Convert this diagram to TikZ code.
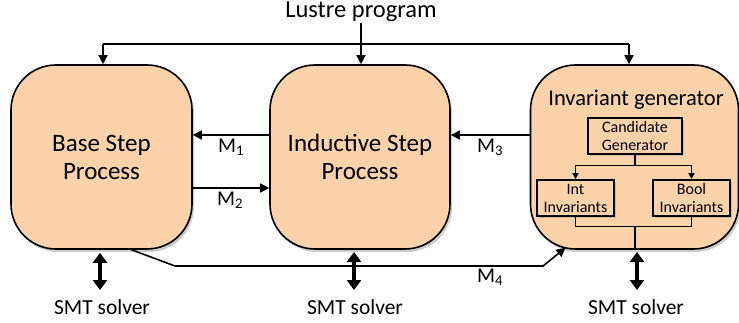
\documentclass[tikz,border=0pt]{standalone}
\usepackage{fontspec}
\setmainfont{Carlito}
\usetikzlibrary{arrows.meta,shadows,calc}
\definecolor{peach}{HTML}{FBD2AA}
\begin{document}
\begin{tikzpicture}[x=1pt,y=-1pt,
  shade/.style={drop shadow={shadow xshift=2pt,shadow yshift=-3pt,opacity=0.4}},
  bigbox/.style={draw=black,line width=1.6pt,fill=peach,rounded corners=45pt,
    minimum height=184pt,align=center,font=\fontsize{25}{28}\selectfont,shade},
  smallbox/.style={draw=black,line width=1.6pt,fill=peach,align=center,
    minimum height=36pt,inner sep=1pt,font=\fontsize{16}{18}\selectfont,
    drop shadow={shadow xshift=1.5pt,shadow yshift=-2pt,opacity=0.3}},
  conn/.style={line width=1.6pt},
  arr/.style={conn,-{Triangle[length=9pt,width=9pt]}},
  sarr/.style={line width=1.3pt,-{Triangle[length=6pt,width=6pt]}},
  dbl/.style={line width=3.5pt,{Triangle[length=10pt,width=14pt]}-{Triangle[length=10pt,width=14pt]}},
  lbl/.style={font=\fontsize{22}{24}\selectfont,inner sep=1pt},
  mlbl/.style={font=\fontsize{21}{22}\selectfont,inner sep=1pt}
]
\useasboundingbox (0,0) rectangle (739,323);

% main boxes
\node[bigbox,minimum width=181pt] (base) at (101.5,157) {Base Step\\Process};
\node[bigbox,minimum width=180pt] (ind) at (360,157) {Inductive Step\\Process};
\node[bigbox,minimum width=208pt] (inv) at (634.5,157) {};
\node[lbl,font=\fontsize{22.5}{24}\selectfont] (invlabel) at (636,100) {Invariant generator};

% inner boxes
\node[smallbox,minimum width=94pt] (cand) at (635,136) {Candidate\\Generator};
\node[smallbox,minimum width=77pt] (int) at (575.5,198) {Int\\Invariants};
\node[smallbox,minimum width=77pt] (bool) at (691.5,198) {Bool\\Invariants};
\draw[sarr] (cand.south) -- ++(0,11) -| (int.north);
\draw[sarr] (cand.south) ++(0,11) -| (bool.north);
\draw[line width=1.3pt] (int.south) -- ++(0,10) coordinate (jn) -| (bool.south);
\draw[line width=1.3pt] (jn -| cand.south) -- (inv.south -| cand.south);

% Lustre program
\node[font=\fontsize{24.5}{26}\selectfont,inner sep=1pt] (lustre) at (361,12) {Lustre program};
\coordinate (hl) at (103,44);
\coordinate (hr) at (629,44);
\draw[conn] (hl) -- (hr);
\draw[arr] (hl) -- (hl |- base.north);
\draw[arr] (hr) -- (hr |- inv.north);
\draw[arr] (lustre.south) -- (lustre.south |- ind.north);

% M arrows
\draw[arr] ([yshift=22pt]ind.west) -- ([yshift=22pt]base.east);
\node[mlbl] (m1) at (231,147) {M\textsubscript{1}};
\draw[arr] ([yshift=-31pt]base.east) -- ([yshift=-31pt]ind.west);
\node[mlbl] (m2) at (230,200) {M\textsubscript{2}};
\draw[arr] ([yshift=22pt]inv.west) -- ([yshift=22pt]ind.east);
\node[mlbl] (m3) at (490,147) {M\textsubscript{3}};
\coordinate (b1) at (175,266);
\coordinate (b2) at (543,266);
\draw[arr] ([xshift=30pt]base.south) -- (b1) -- (b2) -- ([xshift=-69pt,yshift=2pt]inv.south);
\node[mlbl] (m4) at (490,277) {M\textsubscript{4}};

% SMT solvers
\node[lbl,font=\fontsize{21.5}{24}\selectfont] (s1) at (102,307) {SMT solver};
\node[lbl,font=\fontsize{21.5}{24}\selectfont] (s2) at (355,307) {SMT solver};
\node[lbl,font=\fontsize{21.5}{24}\selectfont] (s3) at (636,307) {SMT solver};
\draw[dbl] (base.south -| 100,0) ++(0,3) -- (100,290);
\draw[dbl] (354,252) -- (354,290);
\draw[dbl] (637,252) -- (637,290);
\end{tikzpicture}
\end{document}
